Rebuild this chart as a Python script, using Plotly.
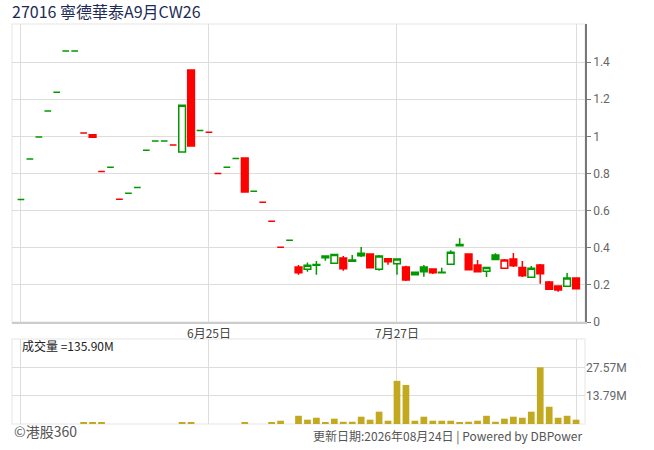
import plotly.graph_objects as go

# daily candles, index 0..62 (5月底 .. 8月24日)
OPEN = [0.66, 0.878, 0.996, 1.136, 1.238, 1.459, 1.459, 1.018, 1.009, 0.81,
        0.833, 0.661, 0.693, 0.725, 0.925, 0.975, 0.975, 0.953, 0.915, 1.357,
        1.032, 1.022, 0.80, 0.834, 0.881, 0.883, 0.704, 0.645, 0.542, 0.402,
        0.44, 0.296, 0.284, 0.31, 0.355, 0.316, 0.345, 0.334, 0.357, 0.366,
        0.284, 0.341, 0.314, 0.296, 0.255, 0.296, 0.285, 0.268, 0.311, 0.418,
        0.366, 0.307, 0.273, 0.361, 0.289, 0.339, 0.294, 0.241, 0.307, 0.215,
        0.194, 0.192, 0.237]
HIGH = [0.66, 0.878, 0.996, 1.136, 1.238, 1.459, 1.459, 1.018, 1.009, 0.81,
        0.833, 0.661, 0.693, 0.725, 0.925, 0.975, 0.975, 0.953, 1.168, 1.357,
        1.032, 1.022, 0.80, 0.834, 0.881, 0.883, 0.704, 0.645, 0.542, 0.402,
        0.44, 0.307, 0.321, 0.328, 0.355, 0.364, 0.355, 0.361, 0.404, 0.366,
        0.361, 0.341, 0.339, 0.303, 0.268, 0.307, 0.289, 0.292, 0.386, 0.451,
        0.366, 0.334, 0.294, 0.37, 0.339, 0.372, 0.328, 0.302, 0.312, 0.221,
        0.194, 0.264, 0.237]
LOW = [0.66, 0.878, 0.996, 1.136, 1.238, 1.459, 1.459, 1.018, 0.995, 0.81,
       0.833, 0.661, 0.693, 0.725, 0.925, 0.975, 0.975, 0.953, 0.915, 0.948,
       1.032, 1.022, 0.80, 0.834, 0.881, 0.70, 0.704, 0.645, 0.542, 0.402,
       0.44, 0.255, 0.271, 0.255, 0.33, 0.316, 0.276, 0.327, 0.35, 0.292,
       0.276, 0.309, 0.255, 0.221, 0.255, 0.244, 0.258, 0.265, 0.311, 0.411,
       0.282, 0.271, 0.242, 0.336, 0.289, 0.296, 0.242, 0.241, 0.206, 0.176,
       0.163, 0.192, 0.179]
CLOSE = [0.66, 0.878, 0.996, 1.136, 1.238, 1.459, 1.459, 1.018, 0.995, 0.81,
         0.833, 0.661, 0.693, 0.725, 0.925, 0.975, 0.975, 0.953, 1.168, 0.948,
         1.032, 1.022, 0.80, 0.834, 0.881, 0.70, 0.704, 0.645, 0.542, 0.402,
         0.44, 0.265, 0.305, 0.306, 0.346, 0.364, 0.287, 0.327, 0.37, 0.292,
         0.355, 0.325, 0.339, 0.226, 0.268, 0.271, 0.265, 0.265, 0.375, 0.411,
         0.282, 0.271, 0.294, 0.336, 0.334, 0.303, 0.249, 0.289, 0.260, 0.176,
         0.172, 0.237, 0.179]
# volume in millions
VOLUME = [0, 0, 0, 0, 0, 0, 0, 0.5, 0.5, 0.5,
          0, 0, 0, 0, 0, 0, 0, 0, 0.5, 0.5,
          0, 0, 0, 0, 0, 0.6, 0, 0, 0.6, 1.6,
          0, 4.0, 2.1, 3.05, 0.65, 2.6, 1.1, 1.1, 3.55, 2.1,
          6.0, 1.6, 21.0, 19.0, 1.6, 3.55, 1.6, 1.6, 1.6, 0.65,
          1.1, 1.6, 4.0, 1.1, 2.6, 3.55, 3.05, 6.0, 27.57, 8.4,
          3.05, 4.0, 2.1]

TICK_POS = [0, 21, 42, 62]
TICK_TEXT = ["", "6月25日", "7月27日", ""]
PRICE_TICKS = [0, 0.2, 0.4, 0.6, 0.8, 1, 1.2, 1.4]
VOL_TICKS = [13.79, 27.57]

TITLE = "27016 寧德華泰A9月CW26"
VOL_LABEL = "成交量 =135.90M"

GREEN = "#009900"
RED = "#ff0000"
GOLD = "#c2a920"
GRID = "#dddddd"

xs = list(range(len(CLOSE)))

# colour: close vs previous close; fill: close below open
groups = {}
for i in xs:
    up = i == 0 or CLOSE[i] >= CLOSE[i - 1]
    filled = CLOSE[i] < OPEN[i]
    groups.setdefault((up, filled), []).append(i)

fig = go.Figure()

for (up, filled), idx in groups.items():
    col = GREEN if up else RED
    fill = col if filled else "white"
    style = dict(line=dict(color=col, width=1.5), fillcolor=fill)
    fig.add_trace(go.Candlestick(
        x=idx,
        open=[OPEN[i] for i in idx],
        high=[HIGH[i] for i in idx],
        low=[LOW[i] for i in idx],
        close=[CLOSE[i] for i in idx],
        increasing=style, decreasing=style,
        xaxis="x", yaxis="y", showlegend=False, hoverinfo="skip",
    ))

fig.add_trace(go.Bar(x=xs, y=VOLUME, marker=dict(color=GOLD, line=dict(width=0)),
                     width=0.75, xaxis="x2", yaxis="y2", showlegend=False))

tickfont = dict(family="Roboto, Noto Sans CJK TC", size=12, color="#666666")

fig.update_layout(
    width=654, height=450,
    margin=dict(l=12, r=69, t=24, b=26),
    paper_bgcolor="white", plot_bgcolor="white",
    boxgap=0.25, boxgroupgap=0,
    title=dict(text=TITLE, x=12 / 654, xanchor="left", y=1 - 12.5 / 450, yanchor="middle",
               font=dict(family="Noto Sans CJK TC", size=16, color="#1c2a55")),
    xaxis=dict(domain=[0, 1], anchor="y", range=[-1, 63], tickvals=TICK_POS, ticktext=TICK_TEXT,
               showgrid=True, gridcolor=GRID, gridwidth=1, zeroline=False,
               showline=True, linecolor="#cccccc", linewidth=1.5,
               ticks="", tickfont=dict(family="Noto Sans CJK TC", size=12, color="#444444"),
               rangeslider=dict(visible=False), fixedrange=True),
    yaxis=dict(domain=[0.255, 1], anchor="x", side="right", range=[0, 1.605],
               tickvals=PRICE_TICKS, showgrid=True, gridcolor=GRID, gridwidth=1, zeroline=False,
               showline=True, linecolor="#777777", linewidth=1.5,
               ticks="outside", ticklen=4, tickcolor="#777777", tickfont=tickfont),
    xaxis2=dict(domain=[0, 1], anchor="y2", matches="x", tickvals=TICK_POS, showticklabels=False,
                showgrid=True, gridcolor=GRID, gridwidth=1, zeroline=False, showline=False, ticks=""),
    yaxis2=dict(domain=[0, 0.2125], anchor="x2", side="right", range=[0, 1.5 * max(VOLUME)],
                tickvals=VOL_TICKS, ticktext=[f"{v:.2f}M" for v in VOL_TICKS],
                showgrid=True, gridcolor=GRID, gridwidth=1, zeroline=False,
                showline=False, ticks="", tickfont=tickfont),
    shapes=[
        dict(type="rect", xref="x domain", yref="y domain", x0=0, x1=1, y0=0, y1=1,
             line=dict(color="#eeeeee", width=1.5), layer="below"),
        dict(type="rect", xref="x2 domain", yref="y2 domain", x0=0, x1=1, y0=0, y1=1,
             line=dict(color="#eeeeee", width=1.5), layer="below"),
    ],
    annotations=[
        dict(text=VOL_LABEL, xref="paper", yref="paper", x=8 / 573, y=(424 - 345) / 400,
             xanchor="left", yanchor="middle", showarrow=False,
             font=dict(family="Noto Sans CJK TC", size=12, color="#222222")),
        dict(text="©港股360", xref="paper", yref="paper", x=0, y=(424 - 431) / 400,
             xanchor="left", yanchor="middle", showarrow=False,
             font=dict(family="Noto Sans CJK TC", size=14, color="#555555")),
        dict(text="更新日期:2026年08月24日 | Powered by DBPower", xref="paper", yref="paper",
             x=(584 - 12) / 573, y=(424 - 436) / 400, xanchor="right", yanchor="middle",
             showarrow=False, font=dict(family="Noto Sans CJK TC", size=12, color="#555555")),
    ],
)

# page body has a default 8px margin; drop it so the figure sits at the corner
fig.write_html("out.html", config=dict(displayModeBar=False),
               post_script="document.body.style.margin='0';")
